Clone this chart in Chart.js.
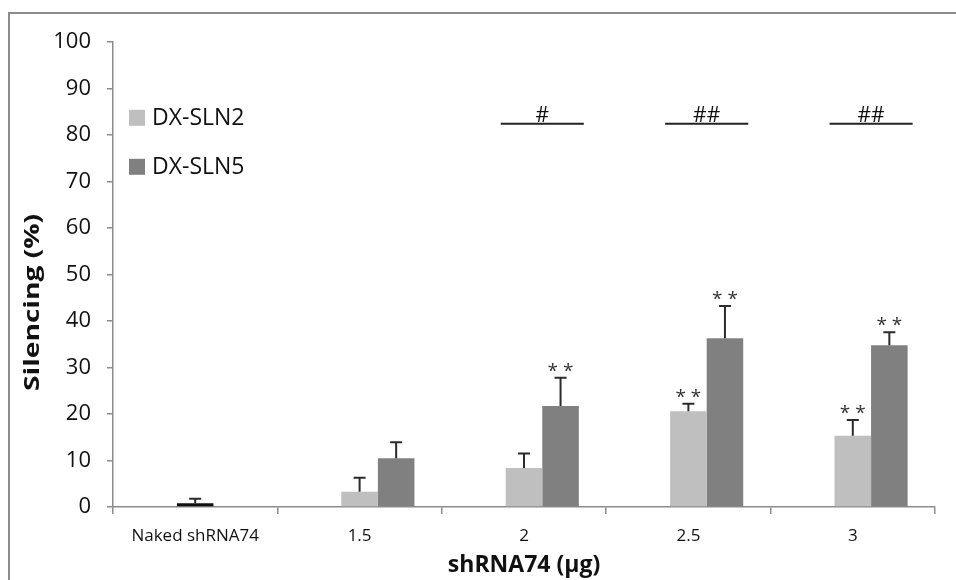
<!DOCTYPE html>
<html lang="en">
<head>
  <meta charset="UTF-8">
  <title>Silencing vs shRNA74</title>
  <script src="https://cdn.jsdelivr.net/npm/chart.js"></script>
  <style>
    html, body { margin: 0; padding: 0; background: #fff; }
    #wrap { position: relative; width: 956px; height: 580px; }
    #frame { position: absolute; left: 8px; top: 12px; right: 0; bottom: -10px;
             border-top: 2px solid #8c8c8c; border-left: 2px solid #8c8c8c; }
  </style>
</head>
<body>
  <div id="wrap">
    <div id="frame"></div>
    <canvas id="chart" width="956" height="580"></canvas>
  </div>
  <script>
    // data
    const categories = ['Naked shRNA74', '1.5', '2', '2.5', '3'];
    const naked = [0.8, null, null, null, null];
    const nakedErr = [1.0, null, null, null, null];
    const sln2 = [null, 3.3, 8.4, 20.6, 15.3];
    const sln2Err = [null, 3.0, 3.1, 1.6, 3.4];
    const sln5 = [null, 10.5, 21.7, 36.3, 34.8];
    const sln5Err = [null, 3.4, 6.1, 6.9, 2.8];
    const sln2Stars = ['', '', '', '**', '**'];
    const sln5Stars = ['', '', '**', '**', '**'];
    const sigMarks = ['', '', '#', '##', '##'];
    const sigLevel = 82.4;

    const FONT = '"Open Sans", "Noto Sans", sans-serif';
    const LIGHT = '#bfbfbf', DARK = '#808080', NAKED = '#111111';

    // naked control sits in the same slot as DX-SLN2
    const firstSeries = sln2.map((v, i) => v ?? naked[i]);
    const firstErr = sln2Err.map((v, i) => v ?? nakedErr[i]);
    const firstColors = naked.map(v => v != null ? NAKED : LIGHT);

    const extras = {
      id: 'extras',
      afterDatasetsDraw(chart) {
        const ctx = chart.ctx, y = chart.scales.y, area = chart.chartArea;
        const m2 = chart.getDatasetMeta(1), m5 = chart.getDatasetMeta(2);
        ctx.save();
        // error bars (upper only) + stars
        [[m2, firstErr, firstSeries, sln2Stars], [m5, sln5Err, sln5, sln5Stars]].forEach(([meta, errs, vals, stars]) => {
          meta.data.forEach((bar, i) => {
            if (vals[i] == null || errs[i] == null) return;
            const top = y.getPixelForValue(vals[i] + errs[i]);
            ctx.strokeStyle = '#2b2b2b';
            ctx.lineWidth = 2;
            ctx.beginPath();
            ctx.moveTo(bar.x, bar.y);
            ctx.lineTo(bar.x, top);
            ctx.moveTo(bar.x - 6, top);
            ctx.lineTo(bar.x + 6, top);
            ctx.stroke();
            if (stars[i]) {
              ctx.fillStyle = '#333';
              ctx.font = '19px ' + FONT;
              ctx.textAlign = 'center';
              ctx.textBaseline = 'alphabetic';
              ctx.fillText(stars[i].split('').join(' '), bar.x, top - 1);
            }
          });
        });
        // significance lines between the two formulations
        const ly = y.getPixelForValue(sigLevel);
        sigMarks.forEach((mark, i) => {
          if (!mark) return;
          const a = m2.data[i], b = m5.data[i];
          const x0 = a.x - a.width / 2 - 5, x1 = b.x + b.width / 2 + 5;
          ctx.strokeStyle = '#222';
          ctx.lineWidth = 2;
          ctx.beginPath();
          ctx.moveTo(x0, ly);
          ctx.lineTo(x1, ly);
          ctx.stroke();
          ctx.fillStyle = '#111';
          ctx.font = '21px ' + FONT;
          ctx.textAlign = 'center';
          ctx.textBaseline = 'alphabetic';
          ctx.fillText(mark, (x0 + x1) / 2, ly - 2);
        });
        // legend inside the plot
        [[chart.data.datasets[1].label, LIGHT], [chart.data.datasets[2].label, DARK]].forEach(([txt, col], k) => {
          const cy = y.getPixelForValue(83.7) + k * 49;
          ctx.fillStyle = col;
          ctx.fillRect(area.left + 16, cy - 8, 16, 16);
          ctx.fillStyle = '#111';
          ctx.font = '23px ' + FONT;
          ctx.textAlign = 'left';
          ctx.textBaseline = 'middle';
          ctx.fillText(txt, area.left + 39, cy + 1);
        });
        // axis titles
        ctx.fillStyle = '#111';
        ctx.font = 'bold 23px ' + FONT;
        ctx.textAlign = 'center';
        ctx.textBaseline = 'middle';
        ctx.fillText('shRNA74 (µg)', (area.left + area.right) / 2, area.bottom + 58);
        ctx.translate(area.left - 80, y.getPixelForValue(44));
        ctx.rotate(-Math.PI / 2);
        ctx.font = 'bold 22px ' + FONT;
        const w = ctx.measureText('Silencing (%)').width;
        ctx.scale(177 / w, 1);
        ctx.fillText('Silencing (%)', 0, 0);
        ctx.restore();
      }
    };

    new Chart(document.getElementById('chart'), {
      type: 'bar',
      data: {
        labels: categories,
        datasets: [
          { label: '', data: categories.map(() => null), backgroundColor: 'transparent' },
          { label: 'DX-SLN2', data: firstSeries, backgroundColor: firstColors },
          { label: 'DX-SLN5', data: sln5, backgroundColor: DARK }
        ]
      },
      options: {
        responsive: false,
        animation: false,
        datasets: { bar: { categoryPercentage: 0.667, barPercentage: 1.0 } },
        layout: { padding: { left: 0, right: 21, top: 42, bottom: 0 } },
        plugins: { legend: { display: false }, tooltip: { enabled: false } },
        scales: {
          x: {
            afterFit: s => { s.height = 73; },
            grid: { display: true, drawOnChartArea: false, offset: true, tickLength: 7, color: '#8c8c8c', lineWidth: 1.5 },
            border: { color: '#8c8c8c', width: 1.5 },
            ticks: { color: '#111', font: { family: FONT, size: 17 }, padding: 12 }
          },
          y: {
            min: 0, max: 100,
            afterFit: s => { s.width = 113; },
            grid: { display: true, drawOnChartArea: false, tickLength: 6, color: '#8c8c8c', lineWidth: 1.5 },
            border: { color: '#8c8c8c', width: 1.5 },
            ticks: { stepSize: 10, color: '#111', font: { family: FONT, size: 22 }, padding: 16 }
          }
        }
      },
      plugins: [extras]
    });
  </script>
</body>
</html>
